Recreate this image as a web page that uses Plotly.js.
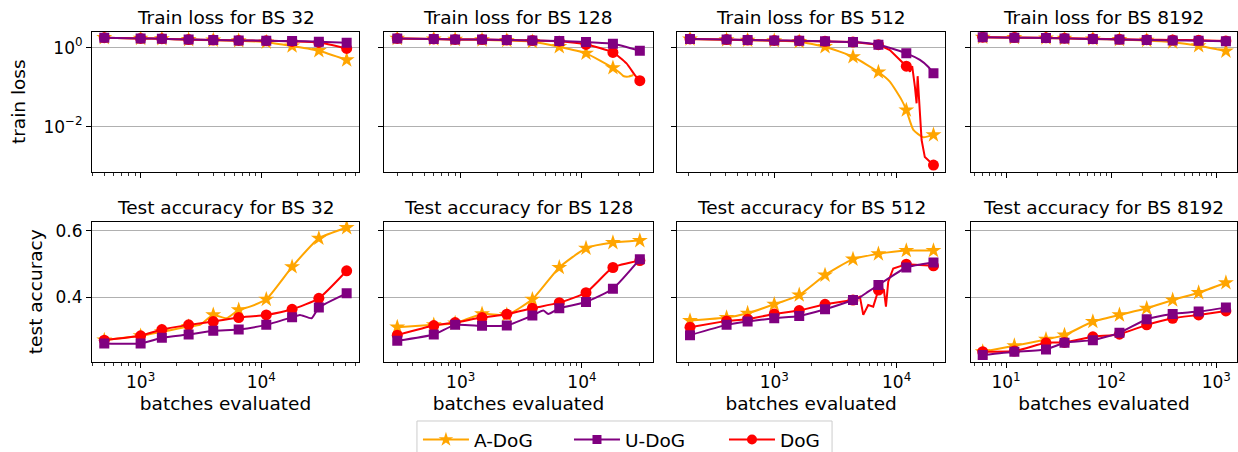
<!DOCTYPE html>
<html><head><meta charset="utf-8">
<script src="https://cdn.plot.ly/plotly-3.0.1.min.js"></script>
<style>html,body{margin:0;padding:0;background:#fff}#chart{width:1238px;height:452px}</style>
</head><body><div id="chart"></div>
<script>
// ---------- data ----------
const methods = ['A-DoG', 'U-DoG', 'DoG'];
const batchSizes = [32, 128, 512, 8192];

const batches32 = [500, 1000, 1500, 2500, 4000, 6500, 11000, 18000, 30000, 51000];
const batches128 = [300, 600, 900, 1500, 2400, 3900, 6500, 10800, 18000, 30000];
const batches512 = [205, 408, 606, 1000, 1600, 2600, 4400, 7100, 12000, 20000];
const batches8192 = [6, 12, 24, 36, 67, 120, 218, 385, 680, 1236];

// train loss at marked evaluations
const lossA32 = [1.79, 1.72, 1.68, 1.6, 1.55, 1.5, 1.38, 1.1, 0.84, 0.49];
const lossU32 = [1.79, 1.72, 1.69, 1.6, 1.56, 1.53, 1.5, 1.47, 1.42, 1.34];
const lossD32 = [1.79, 1.72, 1.69, 1.6, 1.56, 1.53, 1.49, 1.44, 1.36, 0.96];

const lossA128 = [1.72, 1.66, 1.62, 1.58, 1.52, 1.42, 1.06, 0.72, 0.31];
const lossU128 = [1.72, 1.66, 1.62, 1.6, 1.56, 1.53, 1.48, 1.39, 1.26, 0.84];
const lossD128 = [1.72, 1.66, 1.62, 1.6, 1.56, 1.53, 1.46, 1.21, 0.76, 0.146];

const lossA512 = [1.66, 1.58, 1.54, 1.5, 1.42, 1.06, 0.59, 0.242, 0.0264, 0.0062];
const lossU512 = [1.66, 1.6, 1.56, 1.53, 1.5, 1.45, 1.39, 1.19, 0.72, 0.224];
const lossD512 = [1.66, 1.6, 1.56, 1.53, 1.5, 1.45, 1.39, 1.19, 0.34, 0.00107];

const lossA8192 = [1.83, 1.79, 1.76, 1.72, 1.66, 1.6, 1.53, 1.38, 1.12, 0.82];
const lossU8192 = [1.83, 1.79, 1.76, 1.72, 1.66, 1.6, 1.56, 1.53, 1.5, 1.45];
const lossD8192 = [1.84, 1.81, 1.78, 1.74, 1.68, 1.63, 1.59, 1.57, 1.54, 1.48];

// train loss between marks (unmarked evaluations)
const lossA128BetweenX = [20500, 21900, 24100, 26500];
const lossA128BetweenY = [0.233, 0.192, 0.185, 0.203];
const lossD128BetweenX = [23300, 27300];
const lossD128BetweenY = [0.40, 0.203];
const lossA512BetweenX = [8800, 11000, 13700, 16500];
const lossA512BetweenY = [0.138, 0.047, 0.0083, 0.0054];
const lossU512BetweenX = [15500, 18100];
const lossU512BetweenY = [0.49, 0.33];
const lossD512BetweenX = [8800, 10300, 12850, 13400, 14100, 14560, 14850, 15300, 16000, 17000];
const lossD512BetweenY = [0.87, 0.54, 0.247, 0.343, 0.103, 0.039, 0.19, 0.047, 0.0046, 0.0017];

// test accuracy at marked evaluations
const accA32 = [0.271, 0.284, 0.296, 0.312, 0.347, 0.362, 0.394, 0.492, 0.578, 0.61];
const accU32 = [0.261, 0.261, 0.278, 0.288, 0.299, 0.303, 0.317, 0.34, 0.369, 0.412];
const accD32 = [0.271, 0.284, 0.303, 0.317, 0.327, 0.339, 0.347, 0.364, 0.397, 0.48];

const accA128 = [0.31, 0.317, 0.322, 0.35, 0.347, 0.394, 0.49, 0.548, 0.565, 0.571];
const accU128 = [0.269, 0.288, 0.317, 0.314, 0.315, 0.345, 0.367, 0.386, 0.426, 0.515];
const accD128 = [0.286, 0.315, 0.324, 0.339, 0.349, 0.367, 0.384, 0.414, 0.49, 0.511];

const accA512 = [0.33, 0.339, 0.352, 0.379, 0.407, 0.467, 0.515, 0.531, 0.541, 0.541];
const accU512 = [0.286, 0.317, 0.327, 0.337, 0.344, 0.364, 0.392, 0.437, 0.49, 0.505];
const accD512 = [0.31, 0.329, 0.334, 0.35, 0.36, 0.379, 0.392, 0.422, 0.5, 0.495];

const accA8192 = [0.236, 0.254, 0.273, 0.286, 0.327, 0.347, 0.367, 0.392, 0.414, 0.444];
const accU8192 = [0.226, 0.236, 0.243, 0.263, 0.271, 0.293, 0.334, 0.35, 0.357, 0.369];
const accD8192 = [0.236, 0.238, 0.263, 0.264, 0.281, 0.289, 0.317, 0.337, 0.347, 0.359];

// test accuracy between marks
const accA32BetweenX = [3100, 5150, 8050];
const accA32BetweenY = [0.317, 0.337, 0.372];
const accU32BetweenX = [20900, 26100];
const accU32BetweenY = [0.347, 0.337];
const accU128BetweenX = [4800, 5270];
const accU128BetweenY = [0.36, 0.35];
const accU512BetweenX = [5010, 5860];
const accU512BetweenY = [0.4, 0.417];
const accD512BetweenX = [5010, 5340, 5860, 6440, 7870, 8180, 8540, 9380];
const accD512BetweenY = [0.402, 0.347, 0.377, 0.372, 0.422, 0.372, 0.447, 0.487];

const yTickLoss = [1, 0.01];
const yTickLossText = ['10<sup>0</sup>', '10<sup>−2</sup>'];
const yTickAcc = [0.4, 0.6];
const yTickAccText = ['0.4', '0.6'];

// ---------- assemble ----------
const E = [[], []];
const panels = [
  { batches: batches32,
    loss: [lossA32, lossU32, lossD32], acc: [accA32, accU32, accD32],
    lossBetween: [E, E, E],
    accBetween: [[accA32BetweenX, accA32BetweenY], [accU32BetweenX, accU32BetweenY], E] },
  { batches: batches128,
    loss: [lossA128, lossU128, lossD128], acc: [accA128, accU128, accD128],
    lossBetween: [[lossA128BetweenX, lossA128BetweenY], E, [lossD128BetweenX, lossD128BetweenY]],
    accBetween: [E, [accU128BetweenX, accU128BetweenY], E] },
  { batches: batches512,
    loss: [lossA512, lossU512, lossD512], acc: [accA512, accU512, accD512],
    lossBetween: [[lossA512BetweenX, lossA512BetweenY], [lossU512BetweenX, lossU512BetweenY], [lossD512BetweenX, lossD512BetweenY]],
    accBetween: [E, [accU512BetweenX, accU512BetweenY], [accD512BetweenX, accD512BetweenY]] },
  { batches: batches8192,
    loss: [lossA8192, lossU8192, lossD8192], acc: [accA8192, accU8192, accD8192],
    lossBetween: [E, E, E], accBetween: [E, E, E] }
];

const colors = ['orange', 'purple', 'red'];
const symbols = ['star', 'square', 'circle'];
const msizes = [12, 10, 11];
const drawOrder = [0, 2, 1];

const xRanges = [[2.597, 4.81], [2.37, 4.583], [2.208, 4.395], [0.664, 3.2]];
const xDomains = [[0.0743, 0.2900], [0.3104, 0.5272], [0.5471, 0.7633], [0.7841, 0.9994]];
const topDomain = [0.6201, 0.9299];
const botDomain = [0.1998, 0.5095];
const legendX = [0.3376, 0.4596, 0.5848];
const legendBox = { x0: 0.3368, x1: 0.6721, y0: -0.01, y1: 0.0686 };

const FONT = 'DejaVu Sans, Liberation Sans, sans-serif';

function mergeLine(xm, ym, xe, ye) {
  const pts = [];
  for (let i = 0; i < ym.length; i++) pts.push([xm[i], ym[i]]);
  for (let i = 0; i < xe.length; i++) pts.push([xe[i], ye[i]]);
  pts.sort((a, b) => a[0] - b[0]);
  return { x: pts.map(p => p[0]), y: pts.map(p => p[1]) };
}

const traces = [];
const legendNames = ['legend', 'legend2', 'legend3'];
// legend-only entries
methods.forEach((m, k) => {
  traces.push({
    x: [null], y: [null], xaxis: 'x', yaxis: 'y', name: m, type: 'scatter',
    mode: 'lines+markers', showlegend: true, legend: legendNames[k],
    line: { color: colors[k], width: 2 },
    marker: { color: colors[k], symbol: symbols[k], size: msizes[k] - 1 }
  });
});

panels.forEach((p, c) => {
  [['loss', 'lossBetween', c + 1], ['acc', 'accBetween', c + 5]].forEach(([key, bkey, ax]) => {
    const xa = ax === 1 ? 'x' : 'x' + ax;
    const ya = ax === 1 ? 'y' : 'y' + ax;
    drawOrder.forEach(k => {
      const ym = p[key][k];
      const xm = p.batches.slice(0, ym.length);
      const ln = mergeLine(xm, ym, p[bkey][k][0], p[bkey][k][1]);
      const jagged = p[bkey][k][0].length > 6;
      traces.push({
        x: ln.x, y: ln.y, xaxis: xa, yaxis: ya, type: 'scatter', mode: 'lines',
        showlegend: false, hoverinfo: 'skip',
        line: { color: colors[k], width: 2, shape: jagged ? 'linear' : 'spline', smoothing: 0.5 }
      });
      traces.push({
        x: xm, y: ym, xaxis: xa, yaxis: ya, type: 'scatter', mode: 'markers',
        showlegend: false, name: methods[k],
        marker: { color: colors[k], symbol: symbols[k], size: msizes[k] }
      });
    });
  });
});

function logTicks(range) {
  const major = [], minor = [];
  for (let k = Math.floor(range[0]); k <= Math.ceil(range[1]); k++) {
    major.push(Math.pow(10, k));
    for (let m = 2; m <= 9; m++) minor.push(m * Math.pow(10, k));
  }
  return { major, minor };
}

const layout = {
  width: 1238, height: 452,
  margin: { l: 0, r: 0, t: 0, b: 0, autoexpand: false },
  paper_bgcolor: '#fff', plot_bgcolor: '#fff',
  font: { family: FONT, size: 17, color: '#000' },
  showlegend: true,
  annotations: [],
  shapes: [{
    type: 'rect', xref: 'paper', yref: 'paper',
    x0: legendBox.x0, x1: legendBox.x1, y0: legendBox.y0, y1: legendBox.y1,
    line: { color: '#cccccc', width: 1 }, fillcolor: 'rgba(255,255,255,0.8)', layer: 'above'
  }]
};
legendNames.forEach((ln, k) => {
  layout[ln] = {
    orientation: 'h', x: legendX[k], xanchor: 'left', y: 0.0686, yanchor: 'top',
    bgcolor: 'rgba(0,0,0,0)', borderwidth: 0, itemwidth: 46,
    font: { family: FONT, size: 18.5, color: '#000' }
  };
});

const axisCommon = {
  ticks: 'outside', ticklen: 5, tickwidth: 1, tickcolor: '#000',
  showline: true, mirror: true, linecolor: '#000', linewidth: 1,
  zeroline: false, tickfont: { family: FONT, size: 17, color: '#000' }
};

for (let c = 0; c < 4; c++) {
  const t = logTicks(xRanges[c]);
  [c + 1, c + 5].forEach((ax, r) => {
    const xname = ax === 1 ? 'xaxis' : 'xaxis' + ax;
    const yname = ax === 1 ? 'yaxis' : 'yaxis' + ax;
    const yref = ax === 1 ? 'y' : 'y' + ax;
    const xref = ax === 1 ? 'x' : 'x' + ax;
    const xax = Object.assign({}, axisCommon, {
      type: 'log', range: xRanges[c], domain: xDomains[c], anchor: yref,
      tickmode: 'array', tickvals: t.major,
      ticktext: t.major.map(v => '10<sup>' + Math.round(Math.log10(v)) + '</sup>'),
      showticklabels: r === 1, showgrid: false,
      minor: { ticks: 'outside', ticklen: 3, tickwidth: 0.8, tickcolor: '#000',
               tickmode: 'array', tickvals: t.minor, showgrid: false }
    });
    if (r === 1) {
      xax.title = { text: 'batches evaluated', font: { family: FONT, size: 18.5, color: '#000' }, standoff: 5 };
    }
    layout[xname] = xax;
    const yax = Object.assign({}, axisCommon, {
      domain: r === 0 ? topDomain : botDomain, anchor: xref,
      showticklabels: c === 0, showgrid: true, gridcolor: '#b0b0b0', gridwidth: 1,
      tickmode: 'array'
    });
    if (r === 0) {
      Object.assign(yax, { type: 'log', range: [-3.14, 0.405], tickvals: yTickLoss, ticktext: yTickLossText });
    } else {
      Object.assign(yax, { type: 'linear', range: [0.206, 0.628], tickvals: yTickAcc, ticktext: yTickAccText });
    }
    if (c === 0) {
      yax.title = { text: r === 0 ? 'train loss' : 'test accuracy', font: { family: FONT, size: 18.5, color: '#000' }, standoff: r === 0 ? 12 : 8 };
    }
    layout[yname] = yax;
    layout.annotations.push({
      text: (r === 0 ? 'Train loss for BS ' : 'Test accuracy for BS ') + batchSizes[c],
      xref: 'paper', yref: 'paper',
      x: (xDomains[c][0] + xDomains[c][1]) / 2,
      y: (r === 0 ? topDomain : botDomain)[1],
      xanchor: 'center', yanchor: 'bottom', yshift: 2, showarrow: false,
      font: { family: FONT, size: 18.5, color: '#000' }
    });
  });
}

Plotly.newPlot('chart', traces, layout, { displayModeBar: false, staticPlot: true });
</script>
</body></html>
